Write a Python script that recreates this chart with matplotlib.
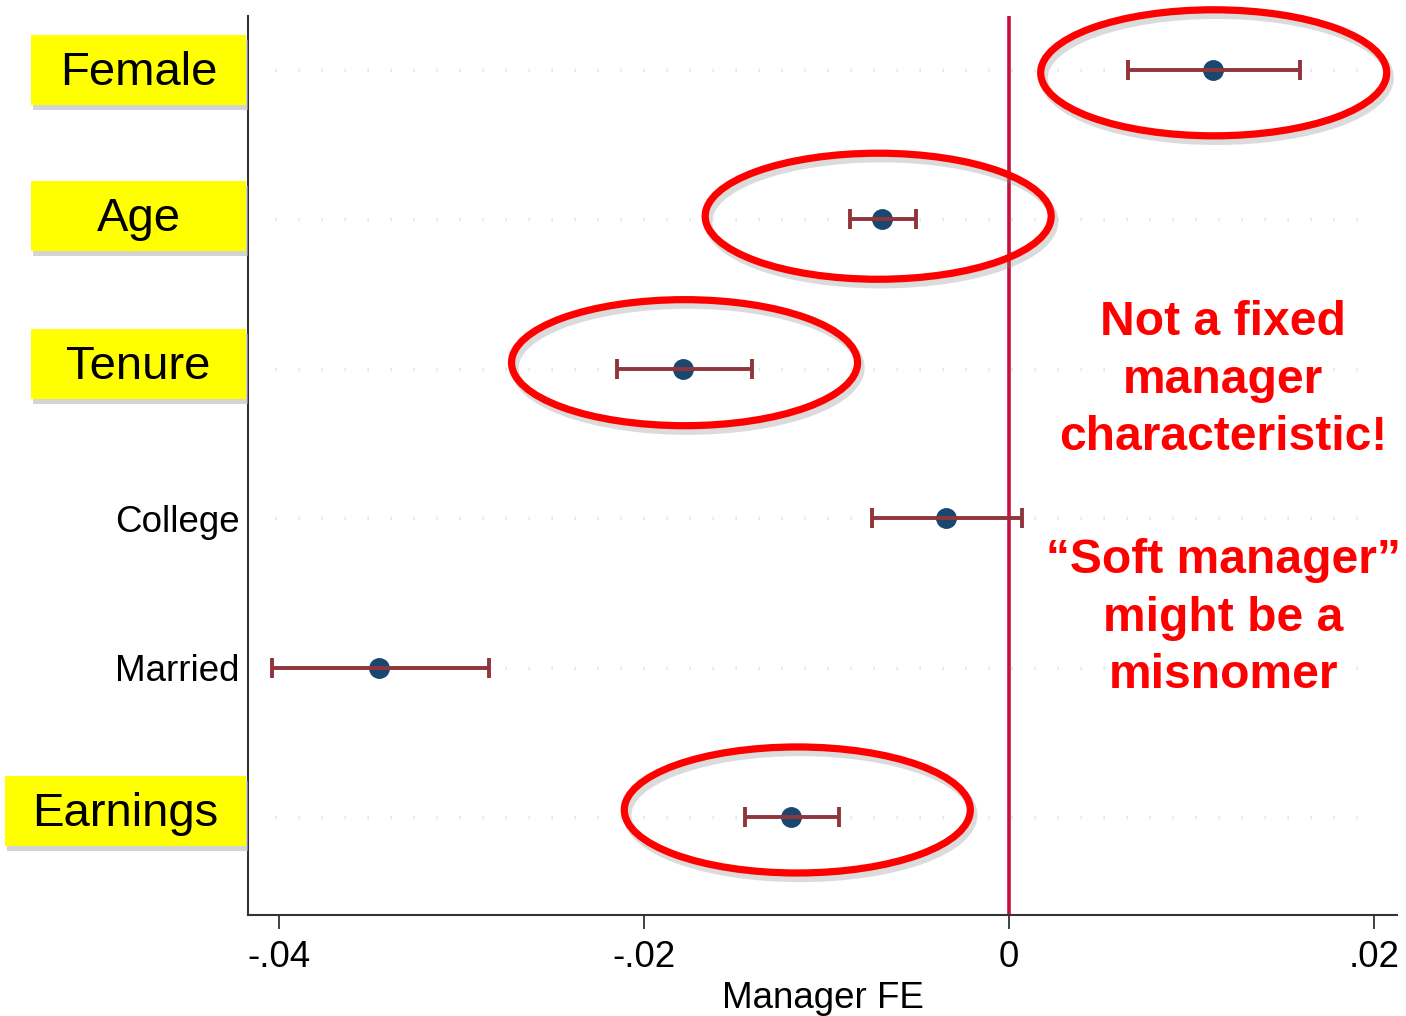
import matplotlib
matplotlib.use("Agg")
import matplotlib.pyplot as plt
from matplotlib.patches import Ellipse, Rectangle
from matplotlib import transforms

plt.rcParams['font.family'] = ['Liberation Sans', 'DejaVu Sans']

# Coefficients of manager characteristics on manager fixed effects
variables = ["Female", "Age", "Tenure", "College", "Married", "Earnings"]
estimates = [0.01116, -0.00695, -0.01784, -0.00345, -0.03453, -0.01193]
ci_low = [0.00651, -0.00870, -0.02150, -0.00750, -0.04038, -0.01445]
ci_high = [0.01592, -0.00509, -0.01406, 0.00071, -0.02851, -0.00930]
highlighted = ["Female", "Age", "Tenure", "Earnings"]
xticks = [-0.04, -0.02, 0.0, 0.02]
xtick_labels = ["-.04", "-.02", "0", ".02"]

W, H, DPI = 1406, 1016, 100
fig = plt.figure(figsize=(W / DPI, H / DPI), dpi=DPI)
ax = fig.add_axes([248 / W, 1 - 915 / H, (1397 - 248) / W, (915 - 16) / H])

ypos = list(range(1, len(variables) + 1))
ax.set_ylim(6.656, 0.64)
ax.set_xlim(-0.0417, 0.02126)

# dotted horizontal grid
ax.hlines(ypos, -0.0402, 0.0197, colors="#dae6ea", linewidth=2.4,
          linestyles=(0, (0.4, 6.5)), zorder=1)

# zero line
ax.axvline(0, color="#c8103c", linewidth=2.6, zorder=2)

# point estimates and confidence intervals
ax.plot(estimates, ypos, "o", color="#1a476f", markersize=14, zorder=3,
        linestyle="none")
err_lo = [e - l for e, l in zip(estimates, ci_low)]
err_hi = [h - e for e, h in zip(estimates, ci_high)]
ax.errorbar(estimates, ypos, xerr=[err_lo, err_hi], fmt="none",
            ecolor="#90353b", elinewidth=2.8, capsize=7.5, capthick=2.8,
            zorder=4)

# axes styling
for s in ["top", "right"]:
    ax.spines[s].set_visible(False)
for s in ["left", "bottom"]:
    ax.spines[s].set_color("#333333")
    ax.spines[s].set_linewidth(1.5)
ax.set_xticks(xticks)
ax.set_xticklabels(xtick_labels, fontsize=26.5)
ax.tick_params(axis="x", length=10, width=1.3, color="#333333", pad=8)
ax.set_xlabel("Manager FE", fontsize=26.5, labelpad=4)

ax.set_yticks(ypos)
ax.set_yticklabels([v if v not in highlighted else "" for v in variables],
                   fontsize=26.5)
ax.tick_params(axis="y", length=0, pad=6)

# highlighted labels in yellow boxes with soft shadow
box_left = {"Female": 31, "Age": 31, "Tenure": 31, "Earnings": 5}
box_dy = {"Female": 0.0, "Age": -0.02, "Tenure": -0.03, "Earnings": -0.04}
blend = transforms.blended_transform_factory(fig.transFigure, ax.transData)
for name in highlighted:
    y = ypos[variables.index(name)] + box_dy[name]
    x0 = box_left[name] / W
    x1 = 246 / W
    h = 70 / 149.4
    shadow_tr = transforms.offset_copy(blend, fig=fig, x=2, y=-5, units="dots")
    fig.patches.append(Rectangle((x0, y - h / 2), x1 - x0, h,
                                 transform=shadow_tr, facecolor="#b8b8b8",
                                 edgecolor="none", alpha=0.6, zorder=1))
    fig.patches.append(Rectangle((x0, y - h / 2), x1 - x0, h,
                                 transform=blend, facecolor="#ffff00",
                                 edgecolor="none", zorder=2))
    fig.text((x0 + x1) / 2, y + 0.02, name, transform=blend, ha="center",
             va="center", fontsize=34, color="black", zorder=3)

# red ellipses around the highlighted estimates (offsets in pixels)
ell_w = 346 / 18250
ell_h = 126 / 149.4
ell_shift = {"Female": (0, -3), "Age": (-5, 3), "Tenure": (0, 6),
             "Earnings": (5, 7)}
for name in highlighted:
    i = variables.index(name)
    cx = (ci_low[i] + ci_high[i]) / 2
    cy = ypos[i]
    dx, dy = ell_shift[name]
    ell_tr = transforms.offset_copy(ax.transData, fig=fig, x=dx, y=dy,
                                    units="dots")
    sh_tr = transforms.offset_copy(ax.transData, fig=fig, x=dx + 3,
                                   y=dy - 5, units="dots")
    ax.add_patch(Ellipse((cx, cy), ell_w, ell_h, transform=sh_tr, fill=False,
                         edgecolor="#888888", linewidth=6, alpha=0.3,
                         zorder=5, clip_on=False))
    ax.add_patch(Ellipse((cx, cy), ell_w, ell_h, transform=ell_tr, fill=False,
                         edgecolor="#ff0000", linewidth=5.2, zorder=6,
                         clip_on=False))

# side notes
notes = [("Not a fixed", 335), ("manager", 393), ("characteristic!", 450),
         ("\u201cSoft manager\u201d", 573), ("might be a", 631), ("misnomer", 688)]
for txt, yb in notes:
    fig.text(1223 / W, 1 - yb / H, txt, ha="center", va="baseline",
             fontsize=34.6, fontweight="bold", color="#ff0000")

fig.savefig("out.png", dpi=DPI, facecolor="white")
